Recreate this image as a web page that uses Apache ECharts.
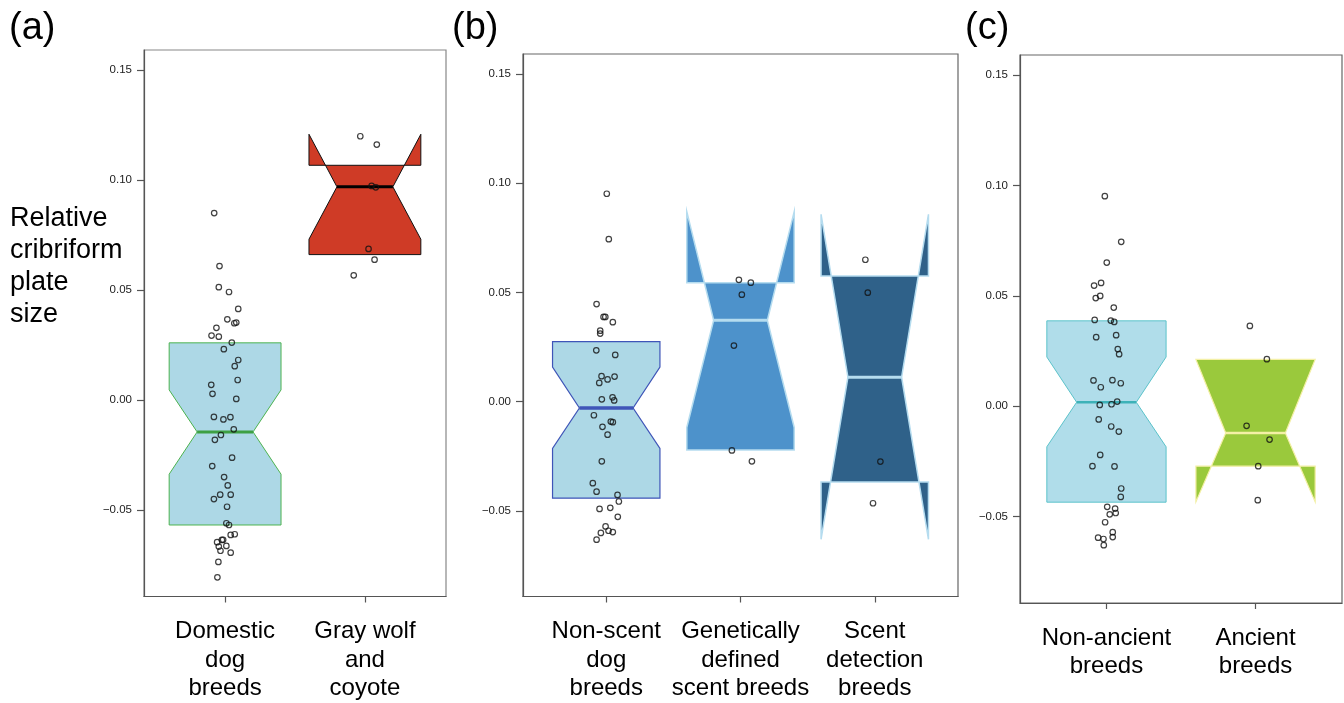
<!DOCTYPE html>
<html><head><meta charset="utf-8">
<script src="https://cdn.jsdelivr.net/npm/echarts@6/dist/echarts.min.js"></script>
<style>html,body{margin:0;padding:0;background:#fff}#c{width:1344px;height:703px}</style>
</head><body><div id="c"></div>
<script>
// ---------- data ----------
const yTicks = [-0.05, 0, 0.05, 0.10, 0.15];
const catsA = ['Domestic\ndog\nbreeds', 'Gray wolf\nand\ncoyote'];
const catsB = ['Non-scent\ndog\nbreeds', 'Genetically\ndefined\nscent breeds', 'Scent\ndetection\nbreeds'];
const catsC = ['Non-ancient\nbreeds', 'Ancient\nbreeds'];

// notched box stats: [lower hinge, lower notch, median, upper notch, upper hinge]
const boxDomestic = [-0.0567, -0.0336, -0.0144, 0.0047, 0.0261];
const boxWolf     = [0.0662, 0.0732, 0.0970, 0.1209, 0.1068];
const boxNonScent = [-0.0442, -0.0214, -0.0029, 0.0158, 0.0275];
const boxGenetic  = [-0.0221, -0.0118, 0.0373, 0.0870, 0.0545];
const boxDetect   = [-0.0368, -0.0630, 0.0112, 0.0858, 0.0576];
const boxNonAnc   = [-0.0435, -0.0184, 0.0018, 0.0223, 0.0387];
const boxAncient  = [-0.0272, -0.0434, -0.0121, 0.0212, 0.0212];

// individual breeds (value) and their horizontal jitter (category units)
const ptsDomestic = [0.0851,0.0610,0.0514,0.0492,0.0415,0.0368,0.0350,0.0353,0.0329,0.0294,0.0289,0.0262,0.0232,0.0183,0.0155,0.0092,0.0070,0.0029,0.0006,-0.0076,-0.0087,-0.0077,-0.0132,-0.0158,-0.0180,-0.0261,-0.0299,-0.0349,-0.0387,-0.0429,-0.0429,-0.0449,-0.0484,-0.0559,-0.0567,-0.0612,-0.0609,-0.0645,-0.0635,-0.0634,-0.0665,-0.0662,-0.0693,-0.0684,-0.0735,-0.0805];
const jitDomestic = [-0.078,-0.040,-0.045,0.028,0.094,0.016,0.066,0.080,-0.062,-0.097,-0.045,0.048,-0.009,0.094,0.069,0.090,-0.099,-0.090,0.080,-0.080,-0.012,0.038,0.062,-0.030,-0.073,0.050,-0.092,-0.007,0.019,-0.035,0.040,-0.080,0.014,0.009,0.028,0.040,0.069,-0.057,-0.023,-0.014,-0.045,0.009,0.040,-0.033,-0.048,-0.055];
const ptsWolf = [0.1200,0.1162,0.0974,0.0968,0.0688,0.0639,0.0568];
const jitWolf = [-0.033,0.085,0.048,0.078,0.026,0.069,-0.080];
const ptsNonScent = [0.0952,0.0744,0.0447,0.0388,0.0388,0.0364,0.0325,0.0312,0.0235,0.0214,0.0117,0.0102,0.0115,0.0086,0.0011,0.0020,0.0006,-0.0062,-0.0091,-0.0094,-0.0115,-0.0151,-0.0273,-0.0373,-0.0412,-0.0427,-0.0457,-0.0491,-0.0486,-0.0527,-0.0571,-0.0601,-0.0591,-0.0597,-0.0632];
const jitNonScent = [0.004,0.019,-0.072,-0.020,-0.007,0.049,-0.045,-0.045,-0.074,0.067,-0.035,0.010,0.062,-0.052,-0.033,0.047,0.059,-0.092,0.034,0.049,-0.028,0.010,-0.033,-0.100,-0.072,0.084,0.094,-0.050,0.030,0.086,-0.005,-0.040,0.017,0.049,-0.072];
const ptsGenetic = [0.0558,0.0545,0.0490,0.0257,-0.0223,-0.0273];
const jitGenetic = [-0.012,0.077,0.010,-0.049,-0.064,0.085];
const ptsDetect = [0.0650,0.0499,-0.0274,-0.0465];
const jitDetect = [-0.070,-0.052,0.042,-0.013];
const ptsNonAnc = [0.0952,0.0745,0.0651,0.0547,0.0559,0.0490,0.0500,0.0447,0.0391,0.0388,0.0382,0.0313,0.0322,0.0259,0.0236,0.0117,0.0086,0.0118,0.0104,0.0006,0.0009,0.0021,-0.0060,-0.0092,-0.0115,-0.0221,-0.0272,-0.0273,-0.0373,-0.0411,-0.0456,-0.0464,-0.0490,-0.0484,-0.0526,-0.0571,-0.0593,-0.0596,-0.0602,-0.0630];
const jitNonAnc = [-0.011,0.099,0.002,-0.083,-0.036,-0.072,-0.042,0.049,-0.079,0.029,0.052,-0.069,0.065,0.076,0.085,-0.087,-0.038,0.040,0.096,-0.045,0.034,0.072,-0.052,0.032,0.083,-0.042,-0.094,0.054,0.099,0.096,0.005,0.058,0.022,0.062,-0.009,0.042,0.042,-0.056,-0.020,-0.018];
const ptsAncient = [0.0364,0.0213,-0.0089,-0.0151,-0.0272,-0.0426];
const jitAncient = [-0.038,0.076,-0.060,0.094,0.018,0.015];

// ---------- chart ----------
const FONT = '"Liberation Sans", Arial, Helvetica, sans-serif';
const YMIN = -0.0892, YMAX = 0.1592;

function fmtY(v){ return (v < -1e-9 ? '\u2212' : '') + Math.abs(v).toFixed(2); }

function yAxisFor(i){
  return {
    type:'value', gridIndex:i, min:YMIN, max:YMAX,
    splitLine:{show:false},
    axisLine:{show:true, lineStyle:{color:'#555', width:1.2}},
    axisTick:{show:true, customValues:yTicks, length:7, lineStyle:{color:'#555', width:1.2}},
    axisLabel:{show:true, customValues:yTicks, formatter:fmtY, fontSize:11.5, color:'#222', margin:12, fontFamily:FONT}
  };
}
function xAxisFor(i, cats, max){
  const vals = cats.map((c,k)=>k+1);
  return {
    type:'value', gridIndex:i, min:(i===1?0.38:0.42), max:max,
    splitLine:{show:false},
    axisLine:{show:true, onZero:false, lineStyle:{color:'#555', width:1.2}},
    axisTick:{show:true, customValues:vals, length:6, lineStyle:{color:'#555', width:1.2}},
    axisLabel:{show:true, customValues:vals, formatter:v=>cats[Math.round(v)-1],
      fontSize:24, lineHeight:28.5, color:'#000', margin:21, fontFamily:FONT, align:'center'}
  };
}

function notchBox(g, cat, stats, fill, stroke, lw, medColor, medW){
  return {
    type:'custom', xAxisIndex:g, yAxisIndex:g, silent:true, z:2,
    data:[[cat].concat(stats)],
    dimensions:['x','q1','nlo','med','nhi','q3'],
    encode:{x:0, y:[1,2,3,4,5]},
    renderItem:function(params, api){
      const x = api.value(0);
      const q1 = api.value(1), nlo = api.value(2), med = api.value(3), nhi = api.value(4), q3 = api.value(5);
      const P = (dx, y) => api.coord([x + dx, y]);
      const pts = [P(-0.4,q1),P(-0.4,nlo),P(-0.2,med),P(-0.4,nhi),P(-0.4,q3),
                   P(0.4,q3),P(0.4,nhi),P(0.2,med),P(0.4,nlo),P(0.4,q1)];
      const m1 = P(-0.2,med), m2 = P(0.2,med);
      return {type:'group', children:[
        {type:'polygon', shape:{points:pts}, style:{fill:fill, stroke:stroke, lineWidth:lw, lineJoin:'miter'}},
        {type:'line', shape:{x1:m1[0], y1:m1[1], x2:m2[0], y2:m2[1]}, style:{stroke:medColor, lineWidth:medW}}
      ]};
    }
  };
}
function points(g, cat, vals, jit){
  return {
    type:'scatter', xAxisIndex:g, yAxisIndex:g, silent:true, z:5,
    symbol:'circle', symbolSize:5.5,
    itemStyle:{color:'rgba(255,255,255,0)', borderColor:'#111', borderWidth:1.2},
    data: vals.map((v,i)=>[cat + jit[i], v])
  };
}

const chart = echarts.init(document.getElementById('c'), null, {renderer:'canvas'});
chart.setOption({
  animation:false,
  backgroundColor:'#fff',
  textStyle:{fontFamily:FONT},
  grid:[
    {left:144, top:50, width:302, height:547, show:true, borderColor:'#888', borderWidth:1.2, backgroundColor:'transparent'},
    {left:523, top:54, width:435, height:547, show:true, borderColor:'#666', borderWidth:1.2, backgroundColor:'transparent'},
    {left:1020, top:55, width:322, height:548, show:true, borderColor:'#666', borderWidth:1.2, backgroundColor:'transparent'}
  ],
  xAxis:[ xAxisFor(0, catsA, 2.58), xAxisFor(1, catsB, 3.62), xAxisFor(2, catsC, 2.58) ],
  yAxis:[ yAxisFor(0), yAxisFor(1), yAxisFor(2) ],
  graphic:[
    {type:'text', left:9, top:10, style:{text:'(a)', fontSize:38, fontFamily:FONT, fill:'#000'}},
    {type:'text', left:452, top:10, style:{text:'(b)', fontSize:38, fontFamily:FONT, fill:'#000'}},
    {type:'text', left:965, top:10, style:{text:'(c)', fontSize:38, fontFamily:FONT, fill:'#000'}},
    {type:'text', left:10, top:203, style:{text:'Relative\ncribriform\nplate\nsize', fontSize:27, lineHeight:32, fontFamily:FONT, fill:'#000'}}
  ],
  series:[
    notchBox(0, 1, boxDomestic, '#ADD8E6', '#4DB34F', 1, '#3DA043', 3),
    notchBox(0, 2, boxWolf, '#CF3B26', '#111', 1, '#000', 3),
    points(0, 1, ptsDomestic, jitDomestic),
    points(0, 2, ptsWolf, jitWolf),
    notchBox(1, 1, boxNonScent, '#ADD8E6', '#3F55B8', 1.2, '#3F55B8', 3.5),
    notchBox(1, 2, boxGenetic, '#4D92CB', '#B5DCEF', 1.5, '#B5DCEF', 3),
    notchBox(1, 3, boxDetect, '#2F6189', '#B5DCEF', 1.5, '#B5DCEF', 3),
    points(1, 1, ptsNonScent, jitNonScent),
    points(1, 2, ptsGenetic, jitGenetic),
    points(1, 3, ptsDetect, jitDetect),
    notchBox(2, 1, boxNonAnc, '#B0DDEA', '#5CC3CA', 1, '#3DB2B8', 2.5),
    notchBox(2, 2, boxAncient, '#9AC93C', '#F4F0A6', 1.2, '#F4F0A6', 2.5),
    points(2, 1, ptsNonAnc, jitNonAnc),
    points(2, 2, ptsAncient, jitAncient)
  ]
});
</script>
</body></html>
